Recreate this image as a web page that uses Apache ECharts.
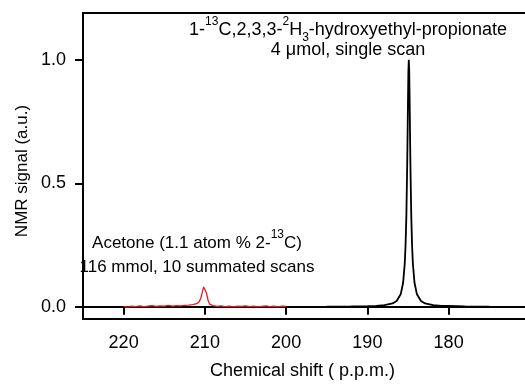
<!DOCTYPE html>
<html>
<head>
<meta charset="utf-8">
<script src="https://cdn.jsdelivr.net/npm/echarts@6/dist/echarts.min.js"></script>
<style>
  html, body { margin: 0; padding: 0; background: #fff; }
  #chart { width: 525px; height: 384px; }
</style>
</head>
<body>
<div id="chart"></div>
<script>
// chemical shift (ppm) / signal pairs
var acetoneShift = [220, 219.5, 219, 218.5, 218, 217.5, 217, 216.5, 216, 215.5, 215, 214.5, 214, 213.5, 213, 212.5, 212, 211.5, 211, 210.7, 210.5, 210.3, 210.15, 210.05, 209.95, 209.8, 209.6, 209.4, 209, 208.5, 208, 207.5, 207, 206.5, 206, 205.5, 205, 204.5, 204, 203.5, 203, 202.5, 202, 201.5, 201, 200.5, 200];
var acetoneSignal = [0.001, -0.002, 0.002, 0.000, 0.003, -0.001, 0.002, 0.004, 0.001, 0.003, 0.002, 0.005, 0.002, 0.004, 0.003, 0.005, 0.006, 0.008, 0.012, 0.020, 0.035, 0.060, 0.080, 0.086, 0.080, 0.055, 0.025, 0.010, 0.004, 0.001, 0.003, 0.000, 0.002, -0.001, 0.002, 0.001, 0.003, 0.000, 0.002, -0.001, 0.001, 0.003, 0.000, 0.002, -0.001, 0.002, 0.001];

var propShift = [195, 192, 190, 188.9, 187.9, 186.9, 186.4, 185.9, 185.6, 185.4, 185.3, 185.2, 185.1, 185.05, 185.0, 184.95, 184.9, 184.85, 184.8, 184.75, 184.7, 184.6, 184.5, 184.4, 184.2, 183.9, 183.4, 182.9, 181.9, 180.9, 180.0, 179.9, 179.8, 178, 175];
var propSignal = [0.000, 0.001, 0.002, 0.003, 0.006, 0.013, 0.023, 0.050, 0.097, 0.175, 0.25, 0.37, 0.57, 0.70, 0.84, 0.955, 1.0, 0.955, 0.84, 0.70, 0.57, 0.37, 0.25, 0.175, 0.097, 0.050, 0.023, 0.013, 0.006, 0.003, 0.003, 0.008, 0.002, 0.001, 0.000];

var xTicks = [220, 210, 200, 190, 180];
var yTicks = [0, 0.5, 1.0];

function pairs(xs, ys) {
  return xs.map(function (x, i) { return [x, ys[i]]; });
}

var font = '"Liberation Sans", Arial, Helvetica, sans-serif';
var fs = 18;
function richStyle(size) {
  var small = Math.round(size * 0.68);
  return {
    n: { fontSize: size, fontFamily: font, color: '#000', lineHeight: 28, verticalAlign: 'middle' },
    sup: { fontSize: small, fontFamily: font, color: '#000', lineHeight: 28, verticalAlign: 'top' },
    sub: { fontSize: small, fontFamily: font, color: '#000', lineHeight: 28, verticalAlign: 'bottom' }
  };
}

var chart = echarts.init(document.getElementById('chart'));
chart.setOption({
  backgroundColor: '#fff',
  animation: false,
  grid: {
    left: 83, top: 13, right: -3, bottom: 65,
    outerBoundsMode: 'none',
    containLabel: false,
    show: true, borderColor: '#000', borderWidth: 2
  },
  xAxis: {
    type: 'value',
    inverse: true,
    min: 170.23,
    max: 225,
    name: 'Chemical shift ( p.p.m.)',
    nameLocation: 'middle',
    nameGap: 43,
    nameTextStyle: { fontSize: fs, fontFamily: font, color: '#000', padding: [0, 0, 0, -6] },
    axisLine: { lineStyle: { color: '#000', width: 2 } },
    axisTick: { customValues: xTicks, length: 8, lineStyle: { color: '#000', width: 2 } },
    axisLabel: { customValues: xTicks, margin: 15, fontSize: fs, fontFamily: font, color: '#000' },
    splitLine: { show: false }
  },
  yAxis: {
    type: 'value',
    min: -0.05,
    max: 1.19,
    axisLine: { lineStyle: { color: '#000', width: 2 } },
    axisTick: { customValues: yTicks, length: 8, lineStyle: { color: '#000', width: 2 } },
    axisLabel: {
      customValues: yTicks, margin: 17, fontSize: fs, fontFamily: font, color: '#000',
      formatter: function (v) { return v.toFixed(1); }
    },
    splitLine: { show: false }
  },
  series: [
    {
      type: 'line',
      data: pairs(acetoneShift, acetoneSignal),
      showSymbol: false,
      lineStyle: { color: '#f0141e', width: 1.3 }
    },
    {
      type: 'line',
      data: pairs(propShift, propSignal),
      showSymbol: false,
      lineStyle: { color: '#000', width: 1.8 }
    }
  ],
  graphic: [
    {
      type: 'text', x: 22, y: 171, rotation: Math.PI / 2,
      style: { text: 'NMR signal (a.u.)', font: '17px ' + font, fill: '#000', align: 'center', verticalAlign: 'middle' }
    },
    {
      type: 'text', x: 348, y: 30,
      style: {
        text: '{n|1-}{sup|13}{n|C,2,3,3-}{sup|2}{n|H}{sub|3}{n|-hydroxyethyl-propionate}',
        rich: richStyle(18), align: 'center', verticalAlign: 'middle'
      }
    },
    {
      type: 'text', x: 348, y: 50,
      style: { text: '4 μmol, single scan', font: '18px ' + font, fill: '#000', align: 'center', verticalAlign: 'middle' }
    },
    {
      type: 'text', x: 197, y: 243,
      style: {
        text: '{n|Acetone (1.1 atom % 2-}{sup|13}{n|C)}',
        rich: richStyle(17), align: 'center', verticalAlign: 'middle'
      }
    },
    {
      type: 'text', x: 197, y: 267,
      style: { text: '116 mmol, 10 summated scans', font: '17px ' + font, fill: '#000', align: 'center', verticalAlign: 'middle' }
    }
  ]
});
</script>
</body>
</html>
